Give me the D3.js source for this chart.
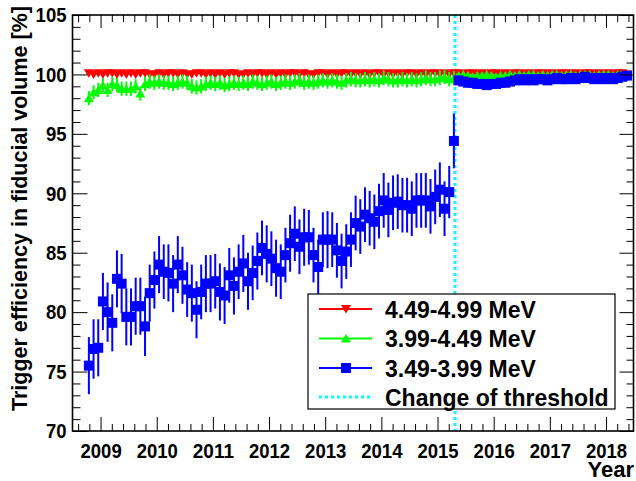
<!DOCTYPE html>
<html><head><meta charset="utf-8">
<script src="https://cdn.jsdelivr.net/npm/d3@7"></script>
<style>
body{margin:0;background:#fff}
text{font-family:"Liberation Sans",Arial,Helvetica,sans-serif;font-weight:bold;fill:#000}
</style>
</head><body>
<svg id="chart" width="636" height="481"></svg>
<script>
// ---------- DATA (monthly, Oct 2008 ... May 2018) ----------
const firstMonth = new Date(2008, 9, 1);
const endMonth = new Date(2018, 5, 1);

const seriesNames = ["4.49-4.99 MeV", "3.99-4.49 MeV", "3.49-3.99 MeV"];

const red = [
 100.1,100.0,100.1,100.0,100.1,100.1,100.0,100.1,100.0,100.1,
 100.0,100.1,100.1,100.0,100.0,100.1,100.0,100.1,100.1,100.0,
 100.1,100.0,100.0,100.1,100.1,100.0,100.1,100.0,100.1,100.0,
 100.1,100.1,100.0,100.0,100.1,100.0,100.1,100.1,100.0,100.1,
 100.0,100.1,100.0,100.1,100.1,100.0,100.1,100.0,100.0,100.1,
 100.1,100.0,100.1,100.0,100.1,100.1,100.0,100.1,100.0,100.1,
 100.0,100.1,100.1,100.0,100.1,100.0,100.1,100.0,100.1,100.1,
 100.0,100.1,100.0,100.1,100.1,100.0,100.1,100.0,100.1,
 100.1,100.0,100.1,100.1,100.0,100.1,100.0,100.1,100.1,100.0,
 100.1,100.0,100.1,100.1,100.0,100.1,100.0,100.1,100.1,100.0,
 100.1,100.0,100.1,100.1,100.0,100.1,100.0,100.1,100.1,100.0,
 100.1,100.0,100.1,100.0,100.1,100.1,100.0
];
const redErr = [
 0.2,0.2,0.2,0.2,0.2,0.2,0.2,0.2,0.2,0.2, 0.2,0.2,0.2,0.2,0.2,0.2,0.2,0.2,0.2,0.2,
 0.2,0.2,0.2,0.2,0.2,0.2,0.2,0.2,0.2,0.2, 0.2,0.2,0.2,0.2,0.2,0.2,0.2,0.2,0.2,0.2,
 0.2,0.2,0.2,0.2,0.2,0.2,0.2,0.2,0.2,0.2, 0.2,0.2,0.2,0.2,0.2,0.2,0.2,0.2,0.2,0.2,
 0.2,0.2,0.2,0.2,0.2,0.2,0.2,0.2,0.2,0.2, 0.2,0.2,0.2,0.2,0.2,0.2,0.2,0.2,0.2,
 0.1,0.1,0.1,0.1,0.1,0.1,0.1,0.1,0.1,0.1, 0.1,0.1,0.1,0.1,0.1,0.1,0.1,0.1,0.1,0.1,
 0.1,0.1,0.1,0.1,0.1,0.1,0.1,0.1,0.1,0.1, 0.1,0.1,0.1,0.1,0.1,0.1,0.1
];

const green = [
 98.0,98.5,98.7,99.1,98.7,99.2,99.1,98.8,98.8,98.8,
 99.0,98.4,99.2,99.4,99.3,99.4,99.3,99.3,99.2,99.3,
 99.4,99.3,99.0,98.9,99.0,99.2,99.3,99.2,99.3,99.1,
 99.2,99.3,99.2,99.3,99.2,99.4,99.3,99.2,99.3,99.4,
 99.2,99.3,99.4,99.3,99.4,99.5,99.3,99.4,99.3,99.4,
 99.5,99.4,99.5,99.4,99.3,99.5,99.6,99.5,99.5,99.6,
 99.5,99.6,99.5,99.7,99.6,99.5,99.5,99.6,99.5,99.6,
 99.5,99.6,99.7,99.6,99.6,99.7,99.8,99.6,99.7,
 99.9,100.0,99.9,99.8,99.9,99.9,100.0,99.9,99.8,99.9,
 99.9,100.0,99.9,100.0,99.9,100.0,100.0,99.9,100.0,99.9,
 100.0,100.0,99.9,100.0,100.0,99.9,100.0,100.0,100.0,99.9,
 100.0,100.0,100.0,99.9,100.0,100.0,100.0
];
const greenErr = [
 0.6,0.6,0.6,0.6,0.6,0.6,0.6,0.6,0.6,0.6, 0.6,0.6,0.6,0.6,0.6,0.6,0.6,0.6,0.6,0.6,
 0.6,0.6,0.6,0.6,0.6,0.6,0.6,0.6,0.6,0.6, 0.6,0.6,0.6,0.6,0.6,0.6,0.6,0.6,0.6,0.6,
 0.6,0.6,0.6,0.6,0.6,0.6,0.6,0.6,0.6,0.6, 0.6,0.6,0.6,0.6,0.6,0.6,0.6,0.6,0.6,0.6,
 0.6,0.6,0.6,0.6,0.6,0.6,0.6,0.6,0.6,0.6, 0.6,0.6,0.6,0.6,0.6,0.6,0.6,0.6,0.6,
 0.25,0.25,0.25,0.25,0.25,0.25,0.25,0.25,0.25,0.25, 0.25,0.25,0.25,0.25,0.25,0.25,0.25,0.25,0.25,0.25,
 0.25,0.25,0.25,0.25,0.25,0.25,0.25,0.25,0.25,0.25, 0.25,0.25,0.25,0.25,0.25,0.25,0.25
];

const blue = [
 75.5,76.9,77.0,80.9,80.0,79.1,82.8,82.4,79.6,79.6,
 80.5,80.5,78.8,81.6,82.7,84.0,83.4,83.3,82.4,84.0,
 83.1,81.9,81.6,80.2,81.7,82.4,82.4,82.6,81.7,81.4,
 83.1,82.2,83.4,84.1,82.6,83.3,84.3,85.4,84.9,84.5,
 83.7,83.4,84.8,85.8,86.6,85.5,86.3,86.3,84.8,83.8,
 86.1,86.1,86.1,85.2,84.3,85.1,86.1,87.5,87.2,88.2,
 87.9,87.6,88.5,89.4,88.6,89.2,89.3,89.0,89.0,88.7,
 89.4,89.4,89.4,88.9,89.7,90.3,88.7,90.1,94.4,
 99.5,99.4,99.3,99.3,99.2,99.2,99.1,99.2,99.2,99.3,
 99.3,99.4,99.5,99.6,99.5,99.6,99.5,99.6,99.6,99.5,
 99.6,99.7,99.6,99.6,99.7,99.6,99.7,99.8,99.7,99.6,
 99.7,99.6,99.7,99.6,99.7,99.8,99.9
];
const blueErr = [
 2.4,2.5,2.4,2.4,2.5,2.4,2.4,2.5,2.4,2.4, 2.4,2.4,2.5,2.4,2.4,2.4,2.3,2.4,2.4,2.4,
 2.4,2.3,2.4,2.4,2.3,2.4,2.4,2.3,2.4,2.4, 2.3,2.4,2.3,2.4,2.4,2.3,2.4,2.3,2.4,2.3,
 2.4,2.3,2.3,2.4,2.3,2.3,2.4,2.3,2.3,2.3, 2.3,2.4,2.3,2.3,2.3,2.3,2.3,2.3,2.3,2.3,
 2.3,2.3,2.3,2.3,2.3,2.3,2.3,2.3,2.3,2.3, 2.3,2.3,2.3,2.3,2.3,2.3,2.3,2.2,2.3,
 0.35,0.35,0.35,0.35,0.35,0.35,0.35,0.35,0.35,0.35, 0.35,0.35,0.35,0.35,0.35,0.35,0.35,0.35,0.35,0.35,
 0.35,0.35,0.35,0.35,0.35,0.35,0.35,0.35,0.35,0.35, 0.35,0.35,0.35,0.35,0.35,0.35,0.35
];

const thresholdYear = 2015.31;
const xTickYears = [2009, 2010, 2011, 2012, 2013, 2014, 2015, 2016, 2017, 2018];
const yTickValues = [70, 75, 80, 85, 90, 95, 100, 105];
const xTitle = "Year";
const yTitle = "Trigger efficiency in fiducial volume [%]";
const thresholdLabel = "Change of threshold";

// ---------- LAYOUT ----------
const W = 636, H = 481;
const L = 72.5, R = 633.5, T = 15, B = 431;
const FONT = '"Liberation Sans",Arial,Helvetica,sans-serif';
const DIGIT_W = 10.3; // narrow tick-label digits as in the reference

const svg = d3.select("#chart");
svg.append("rect").attr("width", W).attr("height", H).attr("fill", "#fff");

const x = d3.scaleLinear().domain([2008.5, 2018.49]).range([L, R]);
const y = d3.scaleLinear().domain([70, 105]).range([B, T]);

const months = d3.timeMonth.range(firstMonth, endMonth);
const monthYear = months.map(d => d.getFullYear() + (d.getMonth() + 0.5) / 12);

const seriesDefs = [
  {name: seriesNames[0], vals: red,   errs: redErr,   color: "#ff0000", shape: "down"},
  {name: seriesNames[1], vals: green, errs: greenErr, color: "#00ff00", shape: "up"},
  {name: seriesNames[2], vals: blue,  errs: blueErr,  color: "#0000ff", shape: "square"}
];

function markerPath(shape) {
  if (shape === "up") return "M0,-4.5L5,4L-5,4Z";
  if (shape === "down") return "M0,4.5L5,-4L-5,-4Z";
  return "M-5,-5H5V5H-5Z";
}

const plot = svg.append("g");

// threshold line
plot.append("line")
  .attr("x1", x(thresholdYear)).attr("x2", x(thresholdYear))
  .attr("y1", T).attr("y2", B)
  .attr("stroke", "#00ffff").attr("stroke-width", 3)
  .attr("stroke-dasharray", "3,3");

// series
seriesDefs.forEach(s => {
  const pts = s.vals.map((v, i) => ({x: monthYear[i], v, e: s.errs[i]}));
  const g = plot.append("g");
  g.selectAll("line").data(pts).join("line")
    .attr("x1", d => x(d.x)).attr("x2", d => x(d.x))
    .attr("y1", d => y(d.v - d.e)).attr("y2", d => y(d.v + d.e))
    .attr("stroke", s.color).attr("stroke-width", 2);
  g.selectAll("path").data(pts).join("path")
    .attr("d", markerPath(s.shape))
    .attr("transform", d => `translate(${x(d.x)},${y(d.v)})`)
    .attr("fill", s.color);
});

// ---------- AXES ----------
const xMinor = d3.range(2008.6, 2018.45, 0.2).filter(v => Math.abs(v - Math.round(v)) > 0.01);
const yMinor = d3.range(71, 105, 1).filter(v => v % 5 !== 0);

function styleAxis(g) {
  g.select(".domain").remove();
  g.selectAll("line").attr("stroke", "#000").attr("stroke-width", 1);
  g.selectAll("text").style("font-family", FONT).style("font-weight", "bold");
}
function narrowLabels(sel) {
  sel.attr("font-size", 21)
     .attr("textLength", function () { return this.textContent.length * DIGIT_W; })
     .attr("lengthAdjust", "spacingAndGlyphs");
}

// bottom
svg.append("g").attr("transform", `translate(0,${B})`)
  .call(d3.axisBottom(x).tickValues(xTickYears).tickFormat(d3.format("d"))
        .tickSizeInner(-14).tickSizeOuter(0).tickPadding(12))
  .call(styleAxis).selectAll("text").call(narrowLabels);
svg.append("g").attr("transform", `translate(0,${B})`)
  .call(d3.axisBottom(x).tickValues(xMinor).tickFormat("").tickSizeInner(-7).tickSizeOuter(0))
  .call(styleAxis);
// top
svg.append("g").attr("transform", `translate(0,${T})`)
  .call(d3.axisTop(x).tickValues(xTickYears).tickFormat("").tickSizeInner(-13).tickSizeOuter(0))
  .call(styleAxis);
svg.append("g").attr("transform", `translate(0,${T})`)
  .call(d3.axisTop(x).tickValues(xMinor).tickFormat("").tickSizeInner(-7).tickSizeOuter(0))
  .call(styleAxis);
// left
svg.append("g").attr("transform", `translate(${L},0)`)
  .call(d3.axisLeft(y).tickValues(yTickValues).tickFormat(d3.format("d"))
        .tickSizeInner(-15).tickSizeOuter(0).tickPadding(6))
  .call(styleAxis).selectAll("text").call(narrowLabels);
svg.append("g").attr("transform", `translate(${L},0)`)
  .call(d3.axisLeft(y).tickValues(yMinor).tickFormat("").tickSizeInner(-8).tickSizeOuter(0))
  .call(styleAxis);
// right
svg.append("g").attr("transform", `translate(${R},0)`)
  .call(d3.axisRight(y).tickValues(yTickValues).tickFormat("").tickSizeInner(-14).tickSizeOuter(0))
  .call(styleAxis);
svg.append("g").attr("transform", `translate(${R},0)`)
  .call(d3.axisRight(y).tickValues(yMinor).tickFormat("").tickSizeInner(-7).tickSizeOuter(0))
  .call(styleAxis);

// frame
svg.append("rect").attr("x", L).attr("y", T).attr("width", R - L).attr("height", B - T)
  .attr("fill", "none").attr("stroke", "#000").attr("stroke-width", 1.6);

// titles
svg.append("text").attr("x", 634).attr("y", 477).attr("text-anchor", "end")
  .attr("font-size", 22).text(xTitle);
svg.append("text").attr("transform", "translate(27,6) rotate(-90)")
  .attr("text-anchor", "end").attr("font-size", 21.5).text(yTitle);

// ---------- LEGEND ----------
const leg = svg.append("g");
leg.append("rect").attr("x", 308).attr("y", 294).attr("width", 307).attr("height", 115)
  .attr("fill", "#fff").attr("stroke", "#000").attr("stroke-width", 1.2);
const legRows = [309, 338.5, 368, 397];
seriesDefs.forEach((s, i) => {
  const yy = legRows[i];
  leg.append("line").attr("x1", 319).attr("x2", 372).attr("y1", yy).attr("y2", yy)
    .attr("stroke", s.color).attr("stroke-width", 2);
  leg.append("path").attr("d", markerPath(s.shape)).attr("transform", `translate(346,${yy})`)
    .attr("fill", s.color);
  leg.append("text").attr("x", 385).attr("y", yy + 8.5).attr("font-size", 23).text(s.name);
});
leg.append("line").attr("x1", 319).attr("x2", 372).attr("y1", legRows[3]).attr("y2", legRows[3])
  .attr("stroke", "#00ffff").attr("stroke-width", 3).attr("stroke-dasharray", "3,3");
leg.append("text").attr("x", 385).attr("y", legRows[3] + 8.5).attr("font-size", 23).text(thresholdLabel);
</script>
</body></html>
